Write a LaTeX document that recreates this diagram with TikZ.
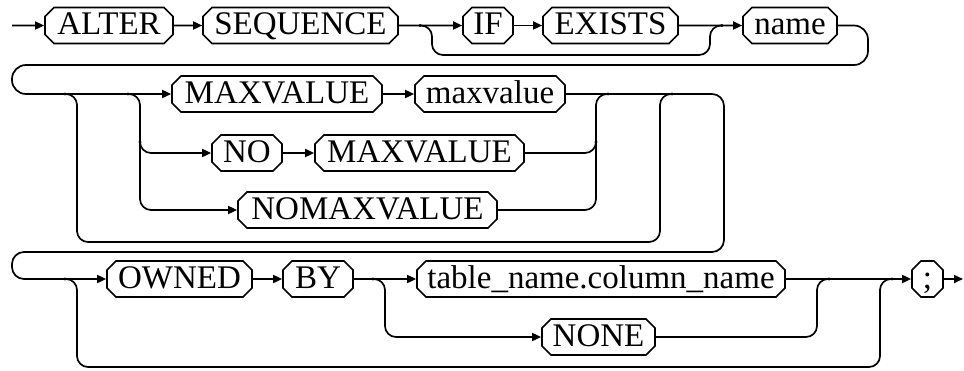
\documentclass[tikz,border=0pt]{standalone}
\usepackage{fontspec}
\setmainfont{Liberation Serif}
\usetikzlibrary{arrows.meta,shapes.misc}
\begin{document}
\begin{tikzpicture}[x=1pt,y=-1pt,line width=1.7pt,
  kw/.style={draw,chamfered rectangle,chamfered rectangle xsep=4.5pt,chamfered rectangle ysep=4.5pt,
    inner sep=0pt,minimum height=36pt,text height=21.5pt,text depth=3pt,
    font=\fontsize{33}{39}\selectfont},
  arr/.style={-{Triangle[length=9pt,width=8pt]}},
  rr/.style={rounded corners=11pt},
  jd/.style={fill,circle,inner sep=0pt,minimum size=3.2pt}]
\useasboundingbox (0,0) rectangle (964,370);
% row 1
\node[kw,minimum width=128pt] (alter) at (109,25.5) {ALTER};
\node[kw,minimum width=195pt] (seq) at (300.5,25.5) {SEQUENCE};
\node[kw,minimum width=50pt] (if) at (488,25.5) {IF};
\node[kw,minimum width=135pt] (exists) at (610.5,25.5) {EXISTS};
\node[kw,minimum width=94pt] (name) at (790,25.5) {name};
% row 2
\node[kw,minimum width=210pt] (max1) at (277,94) {MAXVALUE};
\node[kw,minimum width=150pt] (maxv) at (490,94) {maxvalue};
\node[kw,minimum width=70pt] (no) at (247,153) {NO};
\node[kw,minimum width=209pt] (max2) at (419.5,153) {MAXVALUE};
\node[kw,minimum width=259pt] (nomax) at (367.5,210) {NOMAXVALUE};
% row 3
\node[kw,minimum width=145pt] (owned) at (179.5,279) {OWNED};
\node[kw,minimum width=70pt] (by) at (318,279) {BY};
\node[kw,minimum width=368pt] (tab) at (601,279) {table\_name.column\_name};
\node[kw,minimum width=113pt] (none) at (598.5,337) {NONE};
\node[kw,minimum width=31pt] (semi) at (927.5,279) {;};
% coordinates
\coordinate (start) at (12,25.5);
\coordinate (finish) at (963,279);
\coordinate (b1s) at (420,25.5);
\coordinate (b1e) at (722,25.5);
\coordinate (b2s) at (65,94);
\coordinate (b2e) at (672,94);
\coordinate (b3s) at (128,94);
\coordinate (b3m) at (140,125);
\coordinate (m1e) at (608,94);
\coordinate (m1m) at (596,125);
\coordinate (b4s) at (373,279);
\coordinate (m4e) at (829,279);
\coordinate (b5s) at (65,279);
\coordinate (b5e) at (892,279);
% row 1 connectors
\draw[arr] (start) -- (alter);
\draw[arr] (alter) -- (seq);
\draw[arr] (seq) -- (if);
\draw[arr] (if) -- (exists);
\draw[arr] (exists) -- (name);
\draw[rr] (b1s) -- (432,25.5) -- (432,55) -- (710,55) -- (710,25.5) -- (b1e);
\draw[arr,rounded corners=14pt] (name.east) -- (868,25.5) -- (868,65) -- (12,65) -- (12,94) -- (max1.west);
% row 2 connectors
\draw[arr] (max1) -- (maxv);
\draw[rr] (b2s) -- (77,94) -- (77,242) -- (660,242) -- (660,94) -- (b2e);
\draw[rr,arr] (b3s) -- (140,94) -- (140,210) -- (nomax.west);
\draw[rr,arr] (b3m) -- (140,153) -- (no.west);
\draw[arr] (no) -- (max2);
\draw[rr] (max2.east) -- (596,153) -- (596,94) -- (m1e);
\draw[rr] (nomax.east) -- (596,210) -- (m1m);
\draw[arr,rounded corners=12pt] (maxv.east) -- (724,94) -- (724,252) -- (12,252) -- (12,279) -- (owned.west);
% row 3 connectors
\draw[arr] (owned) -- (by);
\draw[arr] (by) -- (tab);
\draw[arr] (tab) -- (semi);
\draw[arr] (semi) -- (finish);
\draw[rr,arr] (b4s) -- (385,279) -- (385,337) -- (none.west);
\draw[rr] (none.east) -- (817,337) -- (817,279) -- (m4e);
\draw[rr] (b5s) -- (77,279) -- (77,367) -- (880,367) -- (880,279) -- (b5e);
% junction dots
\foreach \p in {b1s,b1e,b2s,b2e,b3s,m1e,b4s,m4e,b5s,b5e}
  \node[jd] at (\p) {};
\node[jd] at (140,142) {};
\node[jd] at (596,142) {};
\end{tikzpicture}
\end{document}
